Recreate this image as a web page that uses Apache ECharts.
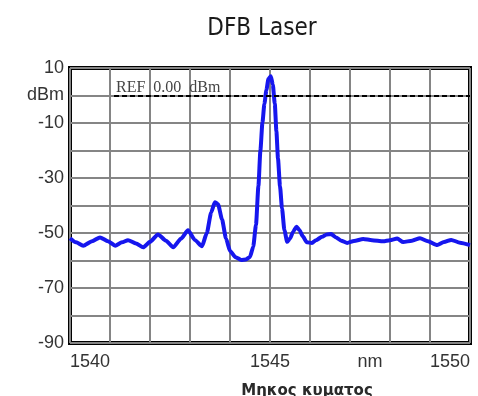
<!DOCTYPE html>
<html>
<head>
<meta charset="utf-8">
<script src="https://cdn.jsdelivr.net/npm/echarts@6/dist/echarts.min.js"></script>
<style>
  html, body { margin: 0; padding: 0; background: #fff; }
  #chart { width: 478px; height: 396px; }
</style>
</head>
<body>
<div id="chart"></div>
<script>
// Optical spectrum of a DFB laser (wavelength in nm, power in dBm)
const wavelength = [
  1540.00, 1540.15, 1540.33, 1540.55, 1540.75, 1540.95, 1541.13, 1541.30, 1541.45,
  1541.65, 1541.83, 1542.00, 1542.20, 1542.40, 1542.58, 1542.78, 1542.95, 1543.12,
  1543.30, 1543.42, 1543.53, 1543.62, 1543.70, 1543.80, 1543.90, 1544.00, 1544.14,
  1544.28, 1544.40, 1544.50, 1544.58, 1544.65, 1544.71, 1544.76, 1544.81, 1544.86,
  1544.91, 1544.96, 1545.02, 1545.07, 1545.12, 1545.16, 1545.20, 1545.25, 1545.30,
  1545.36, 1545.43, 1545.50, 1545.58, 1545.66, 1545.73, 1545.82, 1545.92, 1546.05,
  1546.15, 1546.30, 1546.42, 1546.53, 1546.65, 1546.78, 1546.93, 1547.10, 1547.33,
  1547.55, 1547.83, 1548.00, 1548.18, 1548.33, 1548.55, 1548.75, 1548.95, 1549.18,
  1549.35, 1549.53, 1549.75, 1550.00
];
const powerDbm = [
  -51.9, -53.4, -54.6, -53.0, -51.6, -53.0, -54.6, -53.4, -52.6,
  -53.8, -55.2, -53.2, -50.5, -52.8, -55.2, -52.0, -49.0, -52.5,
  -54.8, -50.0, -42.5, -38.8, -39.5, -45.0, -52.0, -56.5, -58.8,
  -59.8, -59.6, -58.7, -55.0, -47.0, -33.0, -20.0, -10.0, -3.0,
  2.0, 6.0, 7.0, 4.0, -3.0, -13.0, -23.0, -33.0, -41.0,
  -49.0, -53.2, -52.0, -49.5, -47.7, -48.8, -51.2, -53.4, -53.6,
  -52.6, -51.4, -50.5, -50.4, -51.6, -52.8, -53.6, -52.9, -52.2,
  -52.6, -53.0, -52.6, -52.0, -53.3, -52.8, -51.9, -53.0, -54.4,
  -53.3, -52.5, -53.5, -54.4
];

// Reference level marker
const refLevel = 0;
const refLabel = 'REF  0.00  dBm';
const refStart = 1541.1;

// Axis ranges and tick labels
const xMin = 1540, xMax = 1550, xStep = 1;
const xLabelValues = [1540, 1545, 1547.5, 1550];
const xLabelTexts = ['1540', '1545', 'nm', '1550'];
const yMin = -90, yMax = 10, yStep = 10;
const yLabelValues = [10, 0, -10, -30, -50, -70, -90];
const yLabelTexts = ['10', 'dBm', '-10', '-30', '-50', '-70', '-90'];

const chartTitle = 'DFB Laser';
const xAxisTitle = 'Μηκος κυματος';

const labelFor = (values, texts) => (v) => {
  const i = values.findIndex(t => Math.abs(t - v) < 1e-6);
  return i >= 0 ? texts[i] : '';
};

const chart = echarts.init(document.getElementById('chart'), null, { renderer: 'canvas' });
chart.setOption({
  backgroundColor: '#ffffff',
  animation: false,
  title: [
    {
      text: chartTitle, left: 257, top: 12, textAlign: 'center',
      textStyle: { fontFamily: "'DejaVu Sans Condensed', 'Liberation Sans'", fontSize: 24, fontWeight: 'normal', color: '#1a1a1a' }
    },
    {
      text: xAxisTitle, left: 302, top: 379, textAlign: 'center',
      textStyle: { fontFamily: 'DejaVu Sans', fontSize: 15, fontWeight: 'bold', color: '#2a2a2a' }
    }
  ],
  grid: {
    left: 70, right: 8, top: 68, bottom: 53,
    show: true, borderColor: '#000', borderWidth: 4, backgroundColor: '#fff'
  },
  xAxis: [
    {
      type: 'value', min: xMin, max: xMax, interval: xStep,
      axisLine: { show: false }, axisTick: { show: false }, axisLabel: { show: false },
      splitLine: { show: true, lineStyle: { color: '#858585', width: 2 } }
    },
    {
      type: 'value', min: xMin, max: xMax, interval: 0.5, position: 'bottom',
      axisLine: { show: false }, axisTick: { show: false }, splitLine: { show: false },
      axisLabel: {
        margin: 10, fontFamily: 'Liberation Sans', fontSize: 18, color: '#333',
        alignMinLabel: 'left', alignMaxLabel: 'right',
        formatter: labelFor(xLabelValues, xLabelTexts)
      }
    }
  ],
  yAxis: {
    type: 'value', min: yMin, max: yMax, interval: yStep,
    axisLine: { show: false }, axisTick: { show: false },
    splitLine: { show: true, lineStyle: { color: '#858585', width: 2 } },
    axisLabel: {
      margin: 6, fontFamily: 'Liberation Sans', fontSize: 18, color: '#333',
      formatter: labelFor(yLabelValues, yLabelTexts)
    }
  },
  series: [{
    type: 'line',
    xAxisIndex: 0,
    data: wavelength.map((w, i) => [w, powerDbm[i]]),
    showSymbol: false,
    smooth: 0.2,
    smoothMonotone: 'x',
    lineStyle: { color: '#1616ee', width: 4 },
    z: 3,
    markLine: {
      silent: true, symbol: 'none',
      lineStyle: { color: '#000', width: 2, type: [5, 3] },
      label: {
        show: true, position: 'insideStartTop', distance: [2, 0],
        formatter: refLabel,
        fontFamily: 'Liberation Serif', fontSize: 16, color: '#444'
      },
      data: [[{ coord: [refStart, refLevel] }, { coord: [xMax, refLevel] }]]
    }
  }]
});
</script>
</body>
</html>
